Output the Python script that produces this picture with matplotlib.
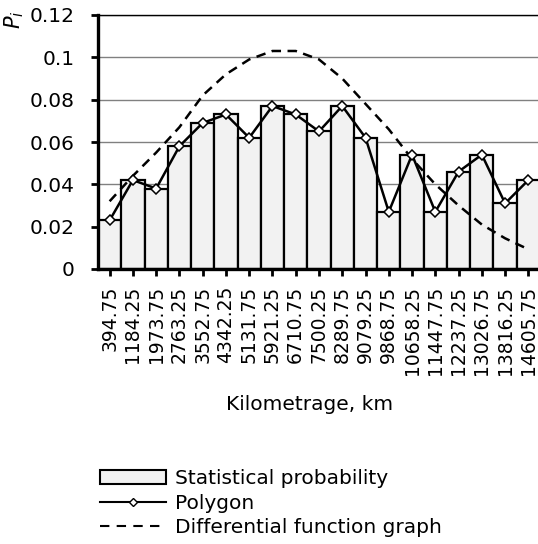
import matplotlib.pyplot as plt
from matplotlib.patches import Patch
from matplotlib.lines import Line2D

# interval midpoints, km
mileage = ["394.75", "1184.25", "1973.75", "2763.25", "3552.75", "4342.25",
           "5131.75", "5921.25", "6710.75", "7500.25", "8289.75", "9079.25",
           "9868.75", "10658.25", "11447.75", "12237.25", "13026.75",
           "13816.25", "14605.75"]

# statistical probability of each interval (also the polygon)
prob = [0.023, 0.042, 0.038, 0.058, 0.069, 0.073, 0.062, 0.077, 0.073,
        0.065, 0.077, 0.062, 0.027, 0.054, 0.027, 0.046, 0.054, 0.031, 0.042]

# differential function graph read at the midpoints
diff_func = [0.032, 0.044, 0.055, 0.067, 0.082, 0.092, 0.099, 0.103, 0.103,
             0.099, 0.090, 0.078, 0.066, 0.052, 0.040, 0.030, 0.021, 0.0145,
             0.0093]

plt.rcParams['font.family'] = 'DejaVu Sans'
plt.rcParams['font.size'] = 14.5

fig = plt.figure(figsize=(5.38, 5.44), dpi=100)
ax = fig.add_axes([98 / 538, 275 / 544, 442 / 538, 254 / 544])

x = list(range(len(mileage)))

ax.bar(x, prob, width=1.0, color='#f2f2f2', edgecolor='black',
       linewidth=1.6, zorder=2)
ax.plot(x, diff_func, color='black', lw=1.8, dashes=(3.8, 2.6), zorder=3)
ax.plot(x, prob, color='black', lw=1.8, marker='D', markersize=5,
        markerfacecolor='white', markeredgecolor='black',
        markeredgewidth=1.1, zorder=4)

ax.set_xlim(-0.5, len(mileage) - 0.5)
ax.set_ylim(0, 0.12)
ax.set_yticks([0, 0.02, 0.04, 0.06, 0.08, 0.1, 0.12])
ax.set_yticklabels(["0", "0.02", "0.04", "0.06", "0.08", "0.1", "0.12"])
ax.set_xticks(x)
ax.set_xticklabels(mileage, rotation=90, fontsize=13.5)

ax.yaxis.grid(True, color='#808080', lw=1, zorder=0)
ax.set_axisbelow(True)

ax.spines['right'].set_visible(False)
ax.spines['top'].set_linewidth(1)
ax.spines['left'].set_linewidth(2.4)
ax.spines['bottom'].set_linewidth(2.4)
ax.tick_params(axis='y', direction='out', length=5, width=2, pad=12)
ax.tick_params(axis='x', direction='out', length=5, width=2, pad=7)

fig.text(310 / 538, 1 - 405 / 544, "Kilometrage, km", ha='center', va='center')
fig.text(14 / 538, 1 - 20 / 544, r"$P_i$", rotation=90, ha='center',
         va='center', fontsize=15)

handles = [
    Patch(facecolor='#f2f2f2', edgecolor='black', linewidth=1.5),
    Line2D([], [], color='black', lw=1.5, marker='D', markersize=4,
           markerfacecolor='white', markeredgecolor='black'),
    Line2D([], [], color='black', lw=1.5, dashes=(4.5, 3.5)),
]
labels = ["Statistical probability", "Polygon", "Differential function graph"]
fig.legend(handles, labels, loc='upper left',
           bbox_to_anchor=(100 / 538, 1 - 469 / 544), frameon=False,
           borderpad=0, borderaxespad=0, handlelength=3.3,
           handletextpad=0.4, labelspacing=0.28)

fig.savefig("out.png", dpi=100)
